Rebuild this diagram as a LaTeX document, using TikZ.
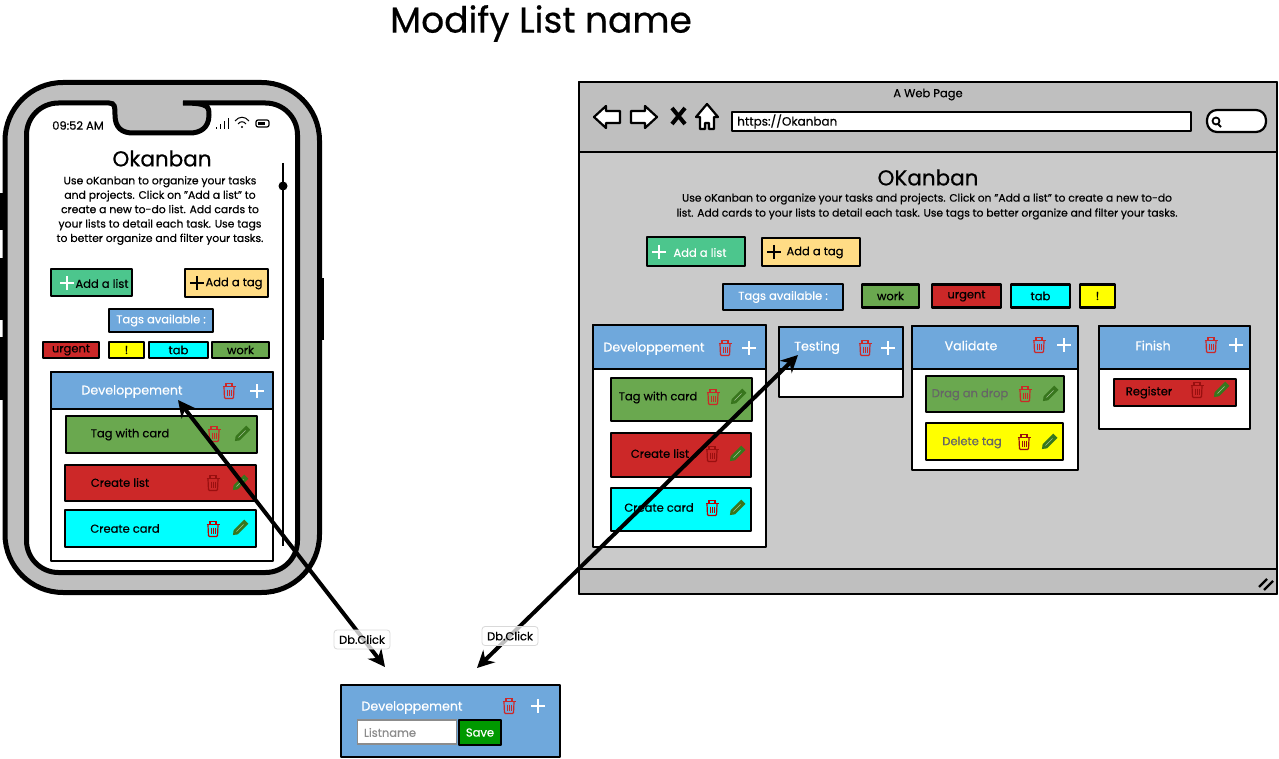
\documentclass[tikz,border=0pt]{standalone}
\usepackage{fontspec}
\setmainfont{Poppins}[RawFeature={embolden=0.5}]
\usetikzlibrary{arrows.meta}
\definecolor{listblue}{HTML}{6FA8DC}
\definecolor{tagred}{HTML}{CC2828}
\definecolor{taggreen}{HTML}{6AA84F}
\definecolor{addgreen}{HTML}{4CC68D}
\definecolor{addyellow}{HTML}{FFDC85}
\definecolor{shellgrey}{HTML}{BFBFBF}
\definecolor{pagegrey}{HTML}{CACACA}
\definecolor{pencilgreen}{HTML}{38761D}
\definecolor{savegreen}{HTML}{009900}
\definecolor{tagcyan}{HTML}{00FFFF}
\definecolor{tagyellow}{HTML}{FFFF00}
\definecolor{darkred}{HTML}{990F0F}
\definecolor{trashred}{HTML}{C00000}
\tikzset{
  box/.style={draw=black, line width=2.2pt, line join=round, inner sep=0pt, font=\fontsize{11.5}{14}\selectfont},
  panel/.style={box, line width=1.8pt},
  txt/.style={inner sep=0pt, yshift=-1.5pt, font=\fontsize{11.5}{14}\selectfont},
  headtxt/.style={txt, text=white, font=\fontsize{12.6}{16}\selectfont},
  dblarrow/.style={line width=4pt, {Stealth[length=17pt, width=17pt]}-{Stealth[length=17pt, width=17pt]}},
  clicklabel/.style={draw=black!15, fill=white, fill opacity=0.75, text opacity=1, rounded corners=3pt, line width=0.8pt, minimum width=56pt, minimum height=19pt, inner sep=0pt, font=\fontsize{11.5}{14}\selectfont},
  trashcan/.pic={
    \draw[pic actions, line width=1.2pt, rounded corners=1pt] (-5,-4) -- (-4.5,7.5) -- (4.5,7.5) -- (5,-4);
    \draw[pic actions, line width=1.2pt] (-6.5,-4.5) -- (6.5,-4.5);
    \draw[pic actions, line width=1.2pt] (-3,-5) -- (-3,-7.5) -- (3,-7.5) -- (3,-5);
    \draw[pic actions, line width=0.7pt] (-2,-1.5) -- (-2,5) (0,-1.5) -- (0,5) (2,-1.5) -- (2,5);
  },
  pencilicon/.pic={
    \begin{scope}[rotate=45]
      \fill[pic actions] (-10,0) -- (-6,-3) -- (9,-3) -- (9,3) -- (-6,3) -- cycle;
      \draw[white, opacity=0.55, line width=0.6pt] (-5,0) -- (5,0);
    \end{scope}
  },
  plusicon/.pic={
    \draw[pic actions, line width=2pt] (-7,0) -- (7,0) (0,-7) -- (0,7);
  },
}
\begin{document}
\begin{tikzpicture}[x=1pt, y=-1pt]
\useasboundingbox (0,0) rectangle (1279,759);
\node[txt, font=\fontsize{36}{40}\selectfont] (title) at (541,22) {Modify List name};

\fill[black] (0,193) rectangle (6,230);
\fill[black] (0,258) rectangle (6,320);
\fill[black] (0,337) rectangle (6,400);
\fill[black] (317,278) rectangle (324,340);
\draw[fill=shellgrey, line width=5pt, rounded corners=58pt] (5,82.5) rectangle (319.5,592.5);
\draw[fill=white, line width=5pt, rounded corners=32pt] (109,103) -- (26.5,103) -- (26.5,572.5) -- (297.5,572.5) -- (297.5,103) -- (215,103) [sharp corners] .. controls (209,103) and (209,107) .. (209,115) .. controls (209,128) and (200,133) .. (190,133) -- (133,133) .. controls (122,133) and (115,128) .. (115,115) .. controls (115,107) and (115,103) .. (109,103) -- cycle;
\node[txt, font=\fontsize{11.5}{14}\selectfont] (phonetime) at (78,124) {09:52 AM};
\draw[line width=1pt] (216,129) -- (216,127) (220,129) -- (220,124) (224,129) -- (224,121) (228,129) -- (228,118);
\draw[line width=1pt] (235,121) .. controls (239,116) and (245,116) .. (249,121);
\draw[line width=1pt] (238,124) .. controls (240,121) and (244,121) .. (246,124);
\fill (242,127) circle (1.2);
\draw[line width=1.2pt, rounded corners=2pt] (256,120) rectangle (269,127);
\fill (258,122) rectangle (265,125);
\node[txt, font=\fontsize{21.5}{26}\selectfont] (phonetitle) at (162,157) {Okanban};
\node[txt, font=\fontsize{10.8}{14.4}\selectfont, align=center] (phonetext) at (160,209) {Use oKanban to organize your tasks\\and projects. Click on "Add a list" to\\create a new to-do list. Add cards to\\your lists to detail each task. Use tags\\to better organize and filter your tasks.};
\draw[line width=2pt] (283,163) -- (283,546);
\fill (283,186) circle (4.5);

\node[box, fill=addgreen, minimum width=81pt, minimum height=27pt] (phoneaddlist) at (91.5,282.5) {};
\pic[draw=white] at (67,283) {plusicon};
\node[txt] (phoneaddlisttxt) at (102,282) {Add a list};
\node[box, fill=addyellow, minimum width=83pt, minimum height=28pt] (phoneaddtag) at (226.5,283) {};
\pic[draw=black] at (197,283) {plusicon};
\node[txt] (phoneaddtagtxt) at (234,282) {Add a tag};
\node[box, fill=listblue, text=white, minimum width=104pt, minimum height=23pt] (phonetags) at (161,320.5) {Tags available :};
\node[box, fill=tagred, minimum width=56pt, minimum height=16pt] (phoneurgent) at (71,350) {urgent};
\node[box, fill=tagyellow, minimum width=35pt, minimum height=16pt] (phonebang) at (126.5,350) {!};
\node[box, fill=tagcyan, minimum width=59pt, minimum height=16pt] (phonetab) at (178.5,350) {tab};
\node[box, fill=taggreen, minimum width=57pt, minimum height=16pt] (phonework) at (240.5,350) {work};

\node[panel, fill=white, minimum width=222pt, minimum height=189pt] (phonelist) at (162,466.5) {};
\node[panel, fill=listblue, minimum width=222pt, minimum height=37pt] (phonehead) at (162,390.5) {};
\node[headtxt] (phoneheadtxt) at (132,390) {Developpement};
\pic[draw=tagred] at (229,391) {trashcan};
\pic[draw=white] at (257,391) {plusicon};
\node[box, fill=taggreen, minimum width=191pt, minimum height=37pt] (phonecarda) at (161.5,434.5) {};
\node[txt] (phonecardatxt) at (130,433) {Tag with card};
\pic[draw=tagred] at (214,434) {trashcan};
\pic[fill=pencilgreen] at (242,434) {pencilicon};
\node[box, fill=tagred, minimum width=191pt, minimum height=36pt] (phonecardb) at (160.5,483) {};
\node[txt] (phonecardbtxt) at (120,481) {Create list};
\pic[draw=darkred] at (213,483) {trashcan};
\pic[fill=pencilgreen] at (240,483) {pencilicon};
\node[box, fill=tagcyan, minimum width=191pt, minimum height=37pt] (phonecardc) at (160.5,528.5) {};
\node[txt] (phonecardctxt) at (125,527) {Create card};
\pic[draw=trashred] at (213,529) {trashcan};
\pic[fill=pencilgreen] at (240,528) {pencilicon};

\node[panel, fill=pagegrey, minimum width=698pt, minimum height=512pt] (browser) at (928,338) {};
\node[panel, fill=shellgrey, minimum width=698pt, minimum height=70pt] (browserbar) at (928,117) {};
\node[panel, fill=shellgrey, minimum width=698pt, minimum height=25pt] (browserfoot) at (928,581.5) {};
\node[txt] (browsertitle) at (928,93) {A Web Page};
\draw[fill=white, line width=2.2pt, line join=round] (594,117) -- (606,106) -- (606,111) -- (620,111) -- (620,123) -- (606,123) -- (606,128) -- cycle;
\draw[fill=white, line width=2.2pt, line join=round] (657,117) -- (645,106) -- (645,111) -- (631,111) -- (631,123) -- (645,123) -- (645,128) -- cycle;
\draw[line width=4pt] (672,108) -- (685,124) (685,108) -- (672,124);
\draw[fill=white, line width=2.2pt, line join=round] (707,104) -- (718,117) -- (714,117) -- (714,129) -- (709,129) -- (709,123) -- (705,123) -- (705,129) -- (700,129) -- (700,117) -- (696,117) -- cycle;
\node[box, fill=white, minimum width=459pt, minimum height=19pt] (urlbox) at (961.5,121.5) {};
\node[txt, anchor=west, font=\fontsize{12}{14}\selectfont] (urltxt) at (737,120) {https://Okanban};
\draw[fill=white, line width=2.2pt, rounded corners=10pt] (1207,110) rectangle (1266,132);
\draw[line width=1.8pt] (1216,121) circle (3.5);
\draw[line width=2pt] (1218,124) -- (1221,127);
\draw[line width=2.2pt] (1259,587) -- (1267,579) (1264,590) -- (1273,581);

\node[txt, font=\fontsize{21.5}{26}\selectfont] (webtitle) at (928,176) {OKanban};
\node[txt, font=\fontsize{10.7}{15}\selectfont, align=center] (webtext) at (927,205) {Use oKanban to organize your tasks and projects. Click on "Add a list" to create a new to-do\\list. Add cards to your lists to detail each task. Use tags to better organize and filter your tasks.};
\node[box, fill=addgreen, minimum width=98pt, minimum height=29pt] (webaddlist) at (696,251.5) {};
\pic[draw=white] at (659,252) {plusicon};
\node[txt, text=white] (webaddlisttxt) at (700,251) {Add a list};
\node[box, fill=addyellow, minimum width=98pt, minimum height=28pt] (webaddtag) at (811,252) {};
\pic[draw=black] at (774,252) {plusicon};
\node[txt] (webaddtagtxt) at (815,251) {Add a tag};
\node[box, fill=listblue, text=white, minimum width=120pt, minimum height=26pt] (webtags) at (783,297) {Tags available :};
\node[box, fill=taggreen, minimum width=57pt, minimum height=23pt] (webwork) at (890.5,296) {work};
\node[box, fill=tagred, minimum width=69pt, minimum height=23pt] (weburgent) at (966.5,296) {urgent};
\node[box, fill=tagcyan, minimum width=59pt, minimum height=23pt] (webtab) at (1040.5,296) {tab};
\node[box, fill=tagyellow, minimum width=35pt, minimum height=23pt] (webbang) at (1097.5,296) {!};

\node[panel, fill=white, minimum width=173pt, minimum height=222pt] (devlist) at (679.5,436) {};
\node[panel, fill=listblue, minimum width=173pt, minimum height=44pt] (devhead) at (679.5,347) {};
\node[headtxt] (devheadtxt) at (654,347) {Developpement};
\pic[draw=tagred] at (725,348) {trashcan};
\pic[draw=white] at (749,348) {plusicon};
\node[box, fill=taggreen, minimum width=141pt, minimum height=43pt] (devcarda) at (681.5,399.5) {};
\node[txt] (devcardatxt) at (658,396) {Tag with card};
\pic[draw=tagred] at (713,397) {trashcan};
\pic[fill=pencilgreen] at (738,397) {pencilicon};
\node[box, fill=tagred, minimum width=140pt, minimum height=44pt] (devcardb) at (681,455) {};
\node[txt] (devcardbtxt) at (660,452) {Create list};
\pic[draw=darkred] at (712,454) {trashcan};
\pic[fill=pencilgreen] at (737,454) {pencilicon};
\node[box, fill=tagcyan, minimum width=140pt, minimum height=43pt] (devcardc) at (681,509.5) {};
\node[txt] (devcardctxt) at (659,506) {Create card};
\pic[draw=trashred] at (712,508) {trashcan};
\pic[fill=pencilgreen] at (737,508) {pencilicon};

\node[panel, fill=white, minimum width=124pt, minimum height=70pt] (testlist) at (841,362) {};
\node[panel, fill=listblue, minimum width=124pt, minimum height=42pt] (testhead) at (841,348) {};
\node[headtxt] (testheadtxt) at (817,346) {Testing};
\pic[draw=tagred] at (865,348) {trashcan};
\pic[draw=white] at (888,348) {plusicon};

\node[panel, fill=white, minimum width=166pt, minimum height=144pt] (vallist) at (995,398) {};
\node[panel, fill=listblue, minimum width=166pt, minimum height=43pt] (valhead) at (995,347.5) {};
\node[headtxt] (valheadtxt) at (971,344) {Validate};
\pic[draw=tagred] at (1039,345) {trashcan};
\pic[draw=white] at (1064,345) {plusicon};
\node[box, fill=taggreen, minimum width=138pt, minimum height=36pt] (valcarda) at (995,394) {};
\node[txt, text=black!60] (valcardatxt) at (970,393) {Drag an drop};
\pic[draw=tagred] at (1025,394) {trashcan};
\pic[fill=pencilgreen] at (1050,394) {pencilicon};
\node[box, fill=tagyellow, minimum width=137pt, minimum height=37pt] (valcardb) at (994.5,441.5) {};
\node[txt, text=black!60] (valcardbtxt) at (972,441) {Delete tag};
\pic[draw=darkred] at (1024,442) {trashcan};
\pic[fill=pencilgreen] at (1049,442) {pencilicon};

\node[panel, fill=white, minimum width=151pt, minimum height=103pt] (finlist) at (1174.5,377.5) {};
\node[panel, fill=listblue, minimum width=151pt, minimum height=43pt] (finhead) at (1174.5,347.5) {};
\node[headtxt] (finheadtxt) at (1153,344) {Finish};
\pic[draw=tagred] at (1211,345) {trashcan};
\pic[draw=white] at (1236,345) {plusicon};
\node[box, fill=tagred, minimum width=122pt, minimum height=27pt] (fincard) at (1175,392.5) {};
\node[txt] (fincardtxt) at (1149,391) {Register};
\pic[draw=darkred] at (1197,390) {trashcan};
\pic[fill=pencilgreen] at (1221,390) {pencilicon};

\node[box, fill=listblue, minimum width=219pt, minimum height=72pt] (form) at (450.5,721) {};
\node[headtxt] (formtxt) at (412,706) {Developpement};
\pic[draw=tagred] at (509,706) {trashcan};
\pic[draw=white] at (538,706) {plusicon};
\node[draw=black!45, fill=white, line width=1.5pt, minimum width=99pt, minimum height=24pt, inner sep=0pt] (listname) at (407,732) {};
\node[txt, text=black!45] (listnametxt) at (390,731) {Listname};
\node[box, fill=savegreen, text=white, minimum width=42pt, minimum height=25pt] (save) at (480,732.5) {Save};

\coordinate (phonetip) at (178,400);
\coordinate (webtip) at (798,355);
\coordinate (formleft) at (385,667);
\coordinate (formright) at (477,668);
\draw[dblarrow] (phonetip) -- (formleft);
\draw[dblarrow] (webtip) -- (formright);
\node[clicklabel] (clickleft) at (362,639.5) {Db.Click};
\node[clicklabel] (clickright) at (510,636) {Db.Click};
\end{tikzpicture}
\end{document}
